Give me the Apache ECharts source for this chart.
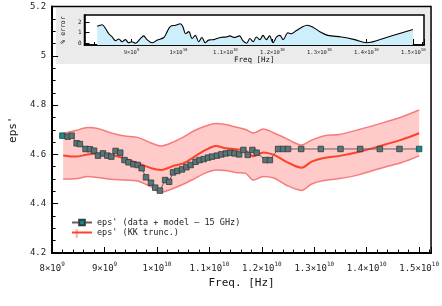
<!DOCTYPE html>
<html><head><meta charset="utf-8">
<script src="https://cdn.jsdelivr.net/npm/echarts@6/dist/echarts.min.js"></script>
<style>html,body{margin:0;padding:0;background:#fff}#c{width:442px;height:306px}</style>
</head><body><div id="c"></div>
<script>
// ---- data (frequencies in GHz) ----
const kkFreq   = [8.21, 8.45, 8.68, 8.87, 9.13, 9.38, 9.63, 9.89, 10.08, 10.33, 10.51, 10.70, 10.93, 11.12, 11.31, 11.50, 11.69, 11.84, 12.03, 12.23, 12.46, 12.76, 12.95, 13.18, 13.48, 13.86, 14.35, 14.67, 15.0];
const kkCenter = [4.596, 4.591, 4.600, 4.604, 4.598, 4.584, 4.565, 4.544, 4.537, 4.555, 4.564, 4.589, 4.618, 4.634, 4.625, 4.621, 4.615, 4.592, 4.608, 4.598, 4.571, 4.546, 4.571, 4.585, 4.594, 4.611, 4.640, 4.660, 4.686];
const kkUpper  = [4.685, 4.697, 4.709, 4.705, 4.687, 4.675, 4.669, 4.646, 4.634, 4.652, 4.671, 4.695, 4.715, 4.725, 4.721, 4.711, 4.701, 4.687, 4.703, 4.687, 4.665, 4.638, 4.658, 4.675, 4.681, 4.701, 4.731, 4.752, 4.780];
const kkLower  = [4.500, 4.501, 4.510, 4.506, 4.499, 4.496, 4.492, 4.468, 4.447, 4.464, 4.480, 4.500, 4.525, 4.537, 4.535, 4.527, 4.523, 4.496, 4.510, 4.504, 4.476, 4.454, 4.480, 4.494, 4.502, 4.518, 4.549, 4.567, 4.594];

const dataFreq = [8.195, 8.297, 8.372, 8.467, 8.529, 8.637, 8.718, 8.800, 8.875, 8.970, 9.053, 9.129, 9.210, 9.299, 9.380, 9.456, 9.550, 9.631, 9.707, 9.790, 9.885, 9.966, 10.055, 10.155, 10.231, 10.306, 10.388, 10.476, 10.56, 10.641, 10.735, 10.811, 10.892, 10.974, 11.049, 11.144, 11.227, 11.314, 11.397, 11.478, 11.567, 11.648, 11.730, 11.819, 11.900, 12.070, 12.153, 12.310, 12.405, 12.499, 12.750, 13.125, 13.500, 13.875, 14.250, 14.625, 15.000];
const dataEps  = [4.676, 4.672, 4.676, 4.645, 4.642, 4.622, 4.621, 4.615, 4.595, 4.604, 4.595, 4.591, 4.614, 4.607, 4.577, 4.568, 4.560, 4.557, 4.544, 4.507, 4.485, 4.465, 4.453, 4.496, 4.489, 4.527, 4.533, 4.539, 4.548, 4.557, 4.570, 4.577, 4.581, 4.587, 4.591, 4.595, 4.600, 4.604, 4.607, 4.604, 4.600, 4.618, 4.598, 4.618, 4.607, 4.577, 4.577, 4.622, 4.622, 4.622, 4.622, 4.622, 4.622, 4.622, 4.622, 4.622, 4.622];

const errFreq = [8.27, 8.376, 8.447, 8.517, 8.589, 8.66, 8.73, 8.80, 8.87, 8.94, 9.01, 9.085, 9.19, 9.26, 9.33, 9.44, 9.55, 9.69, 9.76, 9.83, 9.94, 10.04, 10.10, 10.15, 10.22, 10.29, 10.36, 10.43, 10.50, 10.57, 10.64, 10.75, 10.89, 11.02, 11.09, 11.20, 11.30, 11.37, 11.45, 11.52, 11.59, 11.66, 11.73, 11.80, 11.87, 11.94, 12.01, 12.09, 12.16, 12.23, 12.33, 12.40, 12.51, 12.62, 12.74, 12.87, 13.01, 13.18, 13.47, 13.75, 14.0, 14.46, 14.99];
const errVal  = [1.6, 1.75, 1.4, 0.9, 0.6, 0.25, 0.4, 0.15, 0.35, 0.05, 0.15, 0.0, 0.45, 0.7, 0.35, 0.05, 0.3, 0.55, 1.1, 1.6, 1.7, 1.85, 1.5, 0.9, 1.1, 0.45, 0.75, 0.15, 0.55, 0.05, 0.3, 0.35, 0.55, 0.6, 0.7, 0.55, 0.7, 0.25, 0.0, 0.45, 0.15, 0.6, 0.35, 0.75, 0.35, 0.7, 0.05, 0.6, 0.75, 0.35, 1.0, 0.9, 1.2, 1.5, 1.7, 1.5, 1.1, 0.75, 0.6, 0.35, 0.05, 0.6, 1.3];

const yTicks = [4.2, 4.4, 4.6, 4.8, 5.0, 5.2];
const nameData = "eps' (data + model – 15 GHz)";
const nameKK = "eps' (KK trunc.)";

// ---- helpers ----
const MONO = 'DejaVu Sans Mono';
const zip = (xs, ys) => xs.map((x, i) => [x * 1e9, ys[i]]);
function fmtX(v) {
  const g = v / 1e9;
  if (Math.abs(g - Math.round(g)) > 1e-6) return '';
  const n = Math.round(g);
  if (n < 10) return '{a|' + n + '×10}{b|9}';
  return '{a|' + (n / 10) + '×10}{b|10}';
}
const XMAX = 1.5227e10;

const chart = echarts.init(document.getElementById('c'), null, {renderer: 'canvas'});
const dataPts = zip(dataFreq, dataEps).map((p, i, a) => {
  if (i === 0 || i === a.length - 1) return {value: p, itemStyle: {color: '#138b8b'}};
  return p;
});

chart.setOption({
  animation: false,
  backgroundColor: '#fff',
  graphic: [
    {type: 'rect', z: -1, shape: {x: 56, y: 7.5, width: 375, height: 56.5}, style: {fill: '#ebebeb'}},
    {type: 'rect', z: -1, shape: {x: 75.5, y: 229, width: 2.5, height: 9}, style: {fill: '#ffbcbc'}}
  ],
  grid: [
    {left: 52, right: 8, top: 6.5, bottom: 53, show: true, borderColor: '#000', borderWidth: 1.5, backgroundColor: 'transparent'},
    {left: 84.5, top: 15, width: 339.5, height: 30, show: true, borderColor: '#000', borderWidth: 1.5, backgroundColor: '#fff'}
  ],
  legend: {
    data: [
      {name: nameData, itemStyle: {color: '#138b8b'}},
      {name: nameKK, icon: 'path://M0,0 L20,0 L20,2 L0,2 Z'}
    ],
    left: 66, top: 213, orient: 'vertical',
    itemWidth: 20, itemHeight: 7, itemGap: 1,
    textStyle: {fontFamily: MONO, fontSize: 8.5, color: '#222'}
  },
  xAxis: [
    {type: 'value', gridIndex: 0, min: 8e9, max: XMAX, interval: 1e9,
     axisLine: {show: true, onZero: false, lineStyle: {color: '#000', width: 2}},
     axisTick: {inside: true, length: 6, lineStyle: {color: '#000'}},
     minorTick: {show: true, splitNumber: 5, length: 3.5, lineStyle: {color: '#000'}},
     splitLine: {show: false},
     axisLabel: {formatter: fmtX, margin: 8, showMaxLabel: false,
       rich: {a: {fontFamily: MONO, fontSize: 9, color: '#222', lineHeight: 15},
              b: {fontFamily: MONO, fontSize: 6, color: '#222', verticalAlign: 'top', lineHeight: 7}}},
     name: 'Freq. [Hz]', nameLocation: 'middle', nameGap: 22,
     nameTextStyle: {fontFamily: MONO, fontSize: 11, color: '#111'}},
    {type: 'value', gridIndex: 1, min: 8e9, max: XMAX, interval: 1e9,
     axisLine: {show: true, onZero: false, lineStyle: {color: '#000', width: 1.5}},
     axisTick: {inside: true, length: 6, lineStyle: {color: '#000'}},
     minorTick: {show: true, splitNumber: 5, length: 3, lineStyle: {color: '#000'}},
     splitLine: {show: false},
     axisLabel: {formatter: fmtX, margin: 3, showMinLabel: false, showMaxLabel: false,
       rich: {a: {fontFamily: MONO, fontSize: 5.5, color: '#222', lineHeight: 9},
              b: {fontFamily: MONO, fontSize: 4, color: '#222', verticalAlign: 'top', lineHeight: 5}}},
     name: 'Freq [Hz]', nameLocation: 'middle', nameGap: 10,
     nameTextStyle: {fontFamily: MONO, fontSize: 7.5, color: '#111'}}
  ],
  yAxis: [
    {type: 'value', gridIndex: 0, min: yTicks[0], max: yTicks[yTicks.length - 1], interval: 0.2,
     axisLine: {show: true, onZero: false, lineStyle: {color: '#000', width: 2}},
     axisTick: {inside: true, length: 6, lineStyle: {color: '#000'}},
     minorTick: {show: true, splitNumber: 4, length: 3.5, lineStyle: {color: '#000'}},
     splitLine: {show: false},
     axisLabel: {formatter: v => String(+v.toFixed(1)), margin: 6, fontFamily: MONO, fontSize: 9, color: '#222'},
     name: "eps'", nameLocation: 'middle', nameGap: 21,
     nameTextStyle: {fontFamily: MONO, fontSize: 11, color: '#111'}},
    {type: 'value', gridIndex: 1, min: -0.16, max: 2.67, splitNumber: 3,
     axisLine: {show: true, onZero: false, lineStyle: {color: '#000', width: 1.5}},
     axisTick: {inside: true, length: 5, lineStyle: {color: '#000'}},
     splitLine: {show: false},
     axisLabel: {margin: 3, showMinLabel: false, showMaxLabel: false, fontFamily: MONO, fontSize: 6, color: '#222'},
     name: '% error', nameLocation: 'middle', nameGap: 10,
     nameTextStyle: {fontFamily: MONO, fontSize: 6.5, color: '#111'}}
  ],
  series: [
    {type: 'custom', xAxisIndex: 0, yAxisIndex: 0, data: [[kkFreq[0] * 1e9, kkCenter[0]]], silent: true, z: 1,
     renderItem: function (params, api) {
       const up = kkFreq.map((f, i) => api.coord([f * 1e9, kkUpper[i]]));
       const lo = kkFreq.map((f, i) => api.coord([f * 1e9, kkLower[i]])).reverse();
       return {type: 'polygon', shape: {points: up.concat(lo)}, style: {fill: '#ffcaca'}};
     }},
    {type: 'line', xAxisIndex: 0, yAxisIndex: 0, data: zip(kkFreq, kkLower),
     symbol: 'none', smooth: 0.3, lineStyle: {color: '#f77b7b', width: 1.5}, z: 2, silent: true},
    {type: 'line', xAxisIndex: 0, yAxisIndex: 0, data: zip(kkFreq, kkUpper),
     symbol: 'none', smooth: 0.3, lineStyle: {color: '#f77b7b', width: 1.5}, z: 2, silent: true},
    {type: 'line', name: nameKK, xAxisIndex: 0, yAxisIndex: 0, data: zip(kkFreq, kkCenter),
     symbol: 'none', smooth: 0.3, color: '#ff4128', lineStyle: {color: '#ff4128', width: 2}, z: 3},
    {type: 'line', name: nameData, xAxisIndex: 0, yAxisIndex: 0, data: dataPts,
     symbol: 'rect', symbolSize: 5.5,
     itemStyle: {color: '#5b7474', borderColor: '#2f3d3d', borderWidth: 0.8},
     lineStyle: {color: '#6e5b5e', width: 1}, z: 5},
    {type: 'line', xAxisIndex: 1, yAxisIndex: 1, data: zip(errFreq, errVal),
     symbol: 'none', smooth: 0.35, lineStyle: {color: '#000', width: 1.1},
     areaStyle: {color: '#cdeefb', opacity: 1, origin: 'start'}, z: 3}
  ]
});
</script></body></html>
